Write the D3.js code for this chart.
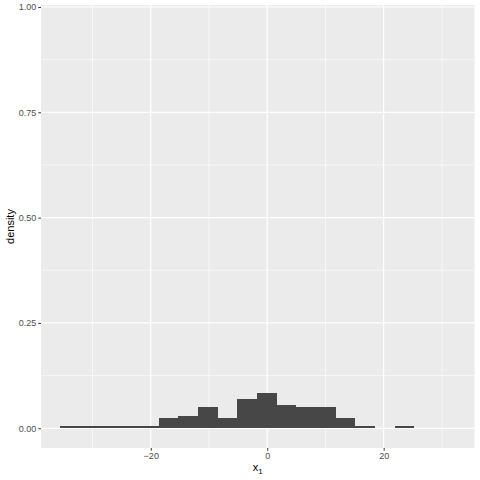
<!DOCTYPE html>
<html><head><meta charset="utf-8">
<script src="https://cdn.jsdelivr.net/npm/d3@7"></script>
<style>body{margin:0;background:#fff}svg{display:block}text{font-family:"Liberation Sans",Arial,sans-serif}</style>
</head><body><svg id="c" width="480" height="480"></svg>
<script>
// histogram bins (left edge of first bin, bin width) and density per bin
const binStart = -35.55;
const binWidth = 3.38;
const densities = [0.006,0.006,0.006,0.006,0.006,0.025,0.030,0.051,0.024,0.070,0.0845,0.055,0.050,0.051,0.025,0.006,0,0.006,0,0];
const xTicks = [-20, 0, 20];
const xMinor = [-30, -10, 10, 30];
const yTicks = [0, 0.25, 0.5, 0.75, 1];
const yMinor = [0.125, 0.375, 0.625, 0.875];
const yTickLabels = ["0.00", "0.25", "0.50", "0.75", "1.00"];

const svg = d3.select("#c");
const L = 41, R = 474.5, T = 5, B = 448;
const x = d3.scaleLinear().domain([-38.85, 35.6]).range([L, R]);
const y = d3.scaleLinear().domain([-0.0468, 1.0047]).range([B, T]);

svg.append("rect").attr("x", L).attr("y", T).attr("width", R - L).attr("height", B - T).attr("fill", "#EBEBEB");
const g = svg.append("g");
g.selectAll(".xm").data(xMinor).join("line").attr("x1", d => x(d)).attr("x2", d => x(d)).attr("y1", T).attr("y2", B).attr("stroke", "#fff").attr("stroke-width", 0.6);
g.selectAll(".ym").data(yMinor).join("line").attr("y1", d => y(d)).attr("y2", d => y(d)).attr("x1", L).attr("x2", R).attr("stroke", "#fff").attr("stroke-width", 0.6);
g.selectAll(".xM").data(xTicks).join("line").attr("x1", d => x(d)).attr("x2", d => x(d)).attr("y1", T).attr("y2", B).attr("stroke", "#fff").attr("stroke-width", 1.2);
g.selectAll(".yM").data(yTicks).join("line").attr("y1", d => y(d)).attr("y2", d => y(d)).attr("x1", L).attr("x2", R).attr("stroke", "#fff").attr("stroke-width", 1.2);

const bins = densities.map((d, i) => ({x0: binStart + i * binWidth, x1: binStart + (i + 1) * binWidth, d}));
svg.append("g").selectAll("rect").data(bins.filter(b => b.d > 0)).join("rect")
  .attr("x", b => x(b.x0)).attr("width", b => x(b.x1) - x(b.x0))
  .attr("y", b => y(b.d)).attr("height", b => y(0) - y(b.d))
  .attr("fill", "#474747").attr("shape-rendering", "crispEdges");

// axes
const xAxis = d3.axisBottom(x).tickValues(xTicks).tickSize(2.75).tickPadding(2).tickFormat(d3.format("d"));
const gx = svg.append("g").attr("transform", `translate(0,${B})`).call(xAxis);
const yAxis = d3.axisLeft(y).tickValues(yTicks).tickSize(2.75).tickPadding(2).tickFormat((d, i) => yTickLabels[i]);
const gy = svg.append("g").attr("transform", `translate(${L},0)`).call(yAxis);
[gx, gy].forEach(a => {
  a.select(".domain").remove();
  a.selectAll(".tick line").attr("stroke", "#333333").attr("stroke-width", 1);
  a.selectAll(".tick text").attr("fill", "#4D4D4D").style("font-size", "9px");
});

svg.append("text").attr("transform", `translate(14,${(T + B) / 2}) rotate(-90)`).attr("text-anchor", "middle")
  .style("font-size", "11px").attr("fill", "#000").text("density");
const xl = svg.append("text").attr("x", (L + R) / 2).attr("y", 471).attr("text-anchor", "middle").style("font-size", "11px").attr("fill", "#000");
xl.append("tspan").text("x");
xl.append("tspan").attr("dy", 3).style("font-size", "8px").text("1");
</script></body></html>
